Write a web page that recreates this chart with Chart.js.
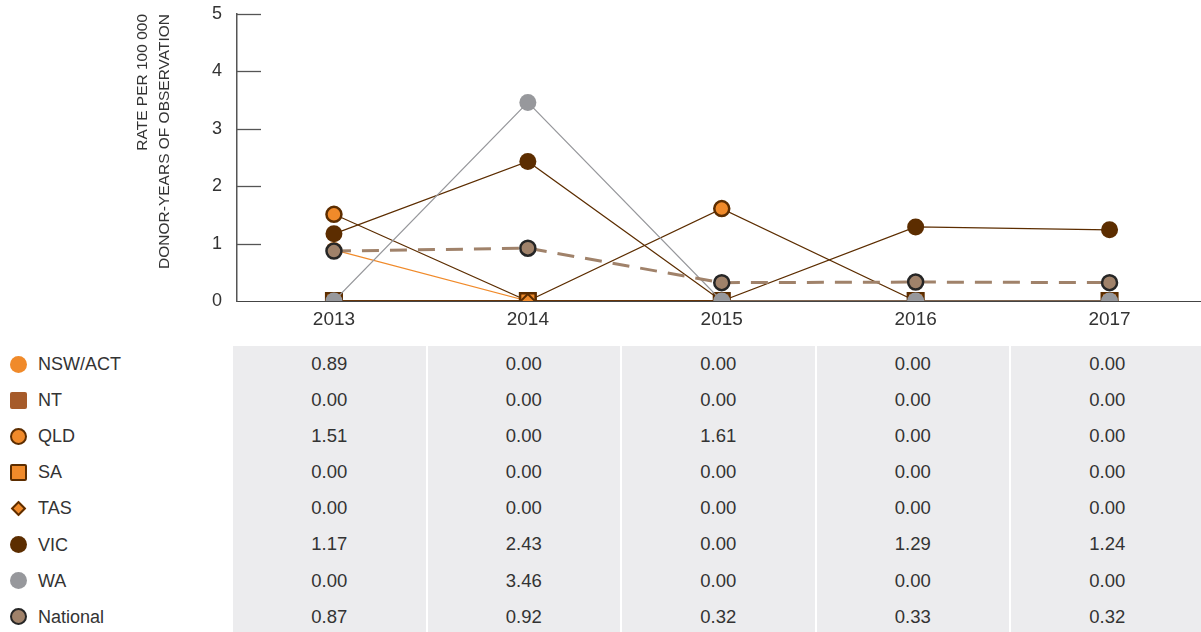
<!DOCTYPE html>
<html>
<head>
<meta charset="utf-8">
<script src="https://cdn.jsdelivr.net/npm/chart.js@4"></script>
<style>
  body { margin: 0; width: 1201px; height: 632px; overflow: hidden; position: relative; background: #fff;
         font-family: 'Liberation Sans', Arial, sans-serif; color: #333; }
  #wrap { position: absolute; left: 0; top: 0; width: 1220px; height: 340px; }
  .leg { position: absolute; left: 0; width: 230px; height: 36px; font-size: 18px; line-height: 36px; }
  .leg span.m { position: absolute; box-sizing: border-box; }
  .leg span.t { position: absolute; left: 38px; }
  .col { position: absolute; top: 346px; width: 192.5px; height: 290px; background: #ececee; }
  .cell { height: 36.1px; line-height: 36.1px; text-align: center; font-size: 18.5px; }
</style>
</head>
<body>
<div id="wrap"><canvas id="graphique" width="1220" height="340"></canvas></div>
<div id="legende"></div>
<div id="tableau"></div>
<script>
const annees = ['2013', '2014', '2015', '2016', '2017'];

const nswAct   = [0.89, 0.00, 0.00, 0.00, 0.00];
const nt       = [0.00, 0.00, 0.00, 0.00, 0.00];
const qld      = [1.51, 0.00, 1.61, 0.00, 0.00];
const sa       = [0.00, 0.00, 0.00, 0.00, 0.00];
const tas      = [0.00, 0.00, 0.00, 0.00, 0.00];
const vic      = [1.17, 2.43, 0.00, 1.29, 1.24];
const wa       = [0.00, 3.46, 0.00, 0.00, 0.00];
const national = [0.87, 0.92, 0.32, 0.33, 0.32];

const yTicks = [0, 1, 2, 3, 4, 5];

const ORANGE = '#f08a2a';
const BRUN_NT = '#a65b2a';
const BRUN = '#5c2d00';
const GRIS = '#97989c';
const TAN = '#a0826a';

const series = [
  { label: 'NSW/ACT',  data: nswAct,   style: 'circle',  bg: ORANGE,  border: ORANGE, bw: 0,   line: ORANGE, lw: 1.2, r: 8,  order: 7 },
  { label: 'NT',       data: nt,       style: 'rect',    bg: BRUN_NT, border: BRUN_NT, bw: 0,  line: BRUN_NT, lw: 1.5, r: 12, order: 6 },
  { label: 'QLD',      data: qld,      style: 'circle',  bg: ORANGE,  border: BRUN,   bw: 2.5, line: BRUN,   lw: 1.2, r: 7.5, order: 5 },
  { label: 'SA',       data: sa,       style: 'rect',    bg: ORANGE,  border: BRUN,   bw: 2.5, line: BRUN,   lw: 1.5, r: 11, order: 4 },
  { label: 'TAS',      data: tas,      style: 'rectRot', bg: ORANGE,  border: BRUN,   bw: 2,   line: BRUN,   lw: 1.2, r: 7,  order: 3 },
  { label: 'VIC',      data: vic,      style: 'circle',  bg: BRUN,    border: BRUN,   bw: 0,   line: BRUN,   lw: 1.2, r: 8.5, order: 2 },
  { label: 'WA',       data: wa,       style: 'circle',  bg: GRIS,    border: GRIS,   bw: 0,   line: GRIS,   lw: 1.2, r: 8.5, order: 1 },
  { label: 'National', data: national, style: 'circle',  bg: TAN,     border: '#262626', bw: 2.5, line: TAN, lw: 3, r: 7.5, order: 0, dash: [17, 11] }
];

// petites graduations vers l'intérieur sur l'axe Y
const graduations = {
  id: 'graduations',
  beforeDatasetsDraw(chart) {
    const ctx = chart.ctx;
    const y = chart.scales.y;
    const left = chart.chartArea.left;
    ctx.save();
    ctx.strokeStyle = '#555';
    ctx.lineWidth = 1.3;
    yTicks.forEach(v => {
      if (v === 0) return;
      const py = Math.round(y.getPixelForValue(v)) + 0.5;
      ctx.beginPath();
      ctx.moveTo(left, py);
      ctx.lineTo(left + 24, py);
      ctx.stroke();
    });
    ctx.restore();
  }
};

const leGraphique = new Chart(document.getElementById('graphique'), {
  type: 'line',
  data: {
    labels: annees,
    datasets: series.map(s => ({
      label: s.label,
      data: s.data,
      order: s.order,
      borderColor: s.line,
      borderWidth: s.lw,
      borderDash: s.dash || [],
      pointStyle: s.style,
      pointRadius: s.r,
      pointBackgroundColor: s.bg,
      pointBorderColor: s.border,
      pointBorderWidth: s.bw,
      tension: 0,
      fill: false
    }))
  },
  options: {
    responsive: false,
    animation: false,
    layout: { padding: { left: 131, top: 14, right: 4, bottom: 0 } },
    plugins: { legend: { display: false }, tooltip: { enabled: false } },
    scales: {
      x: {
        offset: true,
        grid: { display: false, drawTicks: false },
        border: { display: true, color: '#444', width: 1 },
        ticks: { color: '#333', font: { size: 19, family: 'Liberation Sans' }, padding: 7 },
        afterFit: s => { s.height = 39; s.paddingLeft = 0; s.paddingRight = 0; }
      },
      y: {
        min: 0, max: 5,
        afterBuildTicks: s => { s.ticks = yTicks.map(v => ({ value: v })); },
        grid: { display: false, drawTicks: false },
        border: { display: true, color: '#555', width: 1.5 },
        ticks: { color: '#333', font: { size: 18, family: 'Liberation Sans' }, padding: 15 },
        title: {
          display: true,
          text: ['RATE PER 100 000', 'DONOR-YEARS OF OBSERVATION'],
          align: 'end',
          color: '#333',
          font: { size: 15.5, family: 'Liberation Sans', lineHeight: 1.42 },
          padding: { top: 1, bottom: 0 }
        },
        afterFit: s => { s.width = 106; s.paddingTop = 0; s.paddingBottom = 0; }
      }
    }
  },
  plugins: [graduations]
});

// légende à gauche
const legende = document.getElementById('legende');
series.forEach((s, i) => {
  const d = document.createElement('div');
  d.className = 'leg';
  d.style.top = (346 + i * 36.1) + 'px';
  const m = document.createElement('span');
  m.className = 'm';
  let taille = 17;
  if (s.style === 'rectRot') taille = 11;
  m.style.width = taille + 'px';
  m.style.height = taille + 'px';
  m.style.left = (18 - taille / 2) + 'px';
  m.style.top = (18 - taille / 2) + 'px';
  m.style.background = s.bg;
  if (s.bw) m.style.border = s.bw + 'px solid ' + s.border;
  if (s.style === 'circle') m.style.borderRadius = '50%';
  if (s.style === 'rect') m.style.borderRadius = '2px';
  if (s.style === 'rectRot') m.style.transform = 'rotate(45deg)';
  const t = document.createElement('span');
  t.className = 't';
  t.textContent = s.label;
  d.appendChild(m);
  d.appendChild(t);
  legende.appendChild(d);
});

// tableau des valeurs
const tableau = document.getElementById('tableau');
annees.forEach((a, j) => {
  const c = document.createElement('div');
  c.className = 'col';
  c.style.left = (233 + j * 194.5) + 'px';
  series.forEach(s => {
    const cell = document.createElement('div');
    cell.className = 'cell';
    cell.textContent = s.data[j].toFixed(2);
    c.appendChild(cell);
  });
  tableau.appendChild(c);
});
</script>
</body>
</html>
